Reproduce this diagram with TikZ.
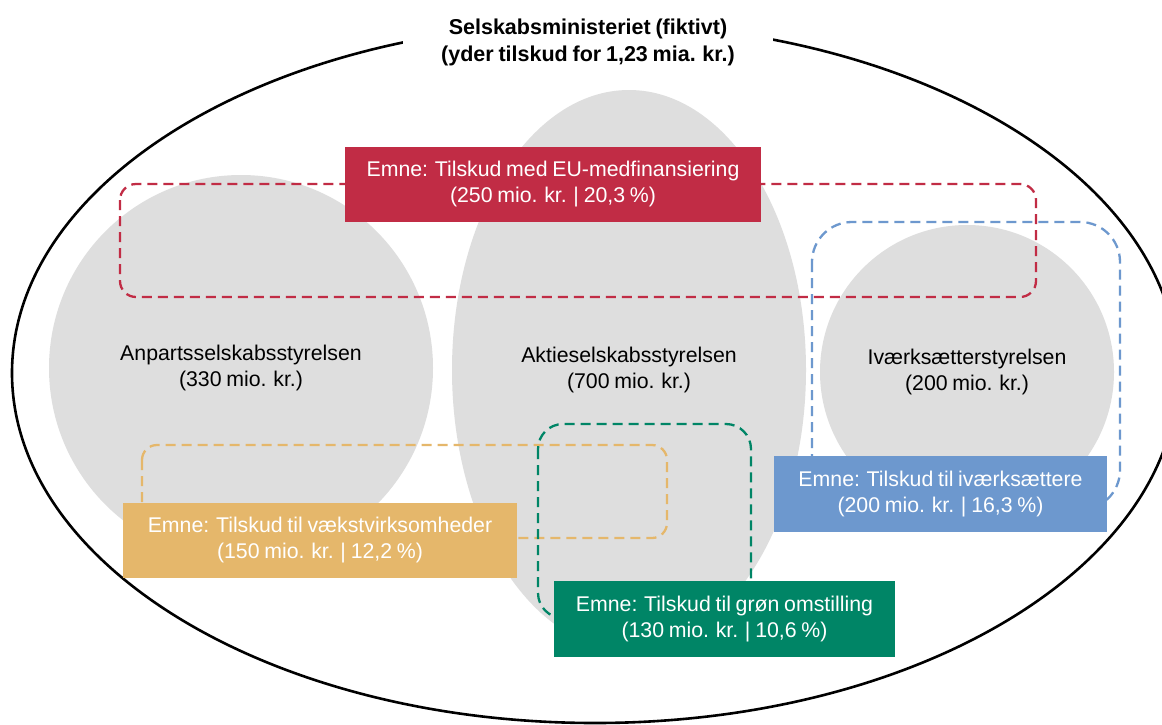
\documentclass[tikz,border=0pt]{standalone}
\usepackage{fontspec}
\setmainfont{Liberation Sans}[WordSpace=0.8]
\usetikzlibrary{shapes.geometric}
\definecolor{grayfill}{HTML}{DEDEDE}
\definecolor{emred}{HTML}{C12C45}
\definecolor{emblue}{HTML}{6D98CE}
\definecolor{emyellow}{HTML}{E5B76B}
\definecolor{emgreen}{HTML}{008566}
\begin{document}
\begin{tikzpicture}[x=1pt,y=-1pt,
  txt/.style={align=center,font=\fontsize{21.3}{26}\selectfont},
  agency/.style={ellipse,fill=grayfill,inner sep=0pt,txt},
  topicbox/.style={rectangle,inner sep=0pt,txt,text=white},
  topicline/.style={line width=2.3pt,dash pattern=on 10pt off 6pt}]
\useasboundingbox (0,0) rectangle (1162,724);
\clip (0,0) rectangle (1162,724);
% outer ellipse
\draw[line width=2.6pt,fill=white] (595,373) ellipse [x radius=583, y radius=350];
\node[fill=white,minimum width=370pt,minimum height=60pt,align=center,
  font=\bfseries\fontsize{21.5}{27}\selectfont] (min) at (588,42)
  {Selskabsministeriet (fiktivt)\\(yder tilskud for 1,23 mia. kr.)};
% agencies
\node[agency,minimum width=384pt,minimum height=386pt] (aps) at (241,368)
  {Anpartsselskabsstyrelsen\\(330 mio. kr.)};
\node[agency,minimum width=354pt,minimum height=560pt] (as) at (629,370)
  {Aktieselskabsstyrelsen\\(700 mio. kr.)};
\node[agency,minimum width=294pt,minimum height=294pt] (iv) at (967,372)
  {Iværksætterstyrelsen\\(200 mio. kr.)};
% dashed topic regions
\draw[topicline,emred,rounded corners=16pt] (120,184) rectangle (1036,297);
\draw[topicline,emblue,rounded corners=40pt] (812,222) rectangle (1120,510);
\draw[topicline,emyellow,rounded corners=15pt] (142,445) rectangle (667,538);
\draw[topicline,emgreen,rounded corners=25pt] (538,424) rectangle (751,618);
% topic boxes
\node[topicbox,fill=emred,minimum width=416pt,minimum height=75pt] (eu) at (553,184.5)
  {Emne: Tilskud med EU-medfinansiering\\(250 mio. kr. | 20,3 \%)};
\node[topicbox,fill=emblue,minimum width=333pt,minimum height=76pt] (ivt) at (940.5,494)
  {Emne: Tilskud til iværksættere\\(200 mio. kr. | 16,3 \%)};
\node[topicbox,fill=emyellow,minimum width=394pt,minimum height=75pt] (vk) at (320,540.5)
  {Emne: Tilskud til vækstvirksomheder\\(150 mio. kr. | 12,2 \%)};
\node[topicbox,fill=emgreen,minimum width=341pt,minimum height=76pt] (gr) at (724.5,619)
  {Emne: Tilskud til grøn omstilling\\(130 mio. kr. | 10,6 \%)};
\end{tikzpicture}
\end{document}
